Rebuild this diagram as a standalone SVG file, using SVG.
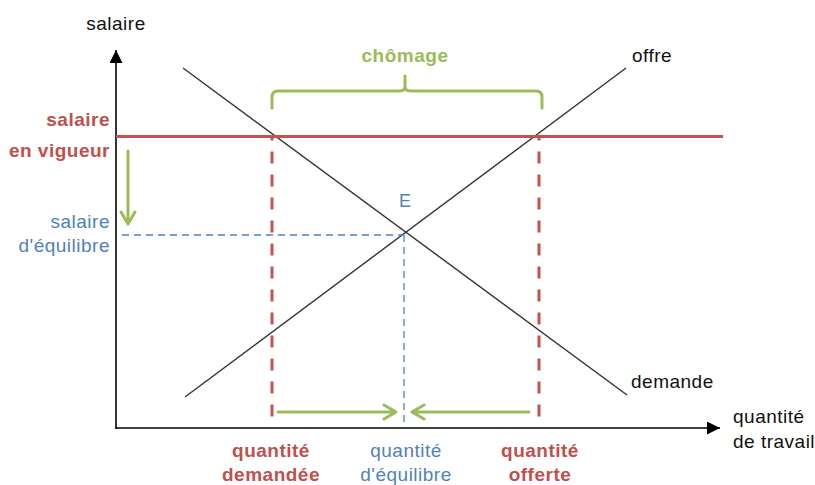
<svg xmlns="http://www.w3.org/2000/svg" width="815" height="485" viewBox="0 0 815 485">
<defs>
<style>
text{font-family:"Liberation Sans",Arial,sans-serif;font-size:19px;letter-spacing:0.5px}
.blk{fill:#111}
.red{fill:#c0504d;font-weight:bold}
.blue{fill:#4f81bd}
.green{fill:#9bbb59;font-weight:bold}
.mid{text-anchor:middle}
.end{text-anchor:end}
.curve{stroke:#333;stroke-width:1.4;fill:none}
.axis{stroke:#000;stroke-width:1.6;fill:none}
.rdash{stroke:#c9504d;stroke-width:3;stroke-dasharray:12,11;stroke-dashoffset:8.5;fill:none}
.bdash{stroke:#4f81bd;stroke-width:1.3;stroke-dasharray:7,5;fill:none}
.garrow{stroke:#9bbb59;stroke-width:3;fill:none;stroke-linecap:round;stroke-linejoin:round}
</style>
<marker id="ax" viewBox="0 0 10 10" refX="10" refY="5" markerWidth="13" markerHeight="13" markerUnits="userSpaceOnUse" orient="auto">
<path d="M0,0 L10,5 L0,10 Z" fill="#000"/>
</marker>
</defs>
<g id="axes">
<line class="axis" x1="116" y1="429" x2="116" y2="50" marker-end="url(#ax)"/>
<line class="axis" x1="116" y1="428" x2="720" y2="428" marker-end="url(#ax)"/>
</g>
<g id="connectors">
<line class="curve" x1="183" y1="68" x2="627" y2="395"/>
<line class="curve" x1="185" y1="397" x2="626" y2="68"/>
<line x1="116" y1="136.5" x2="723" y2="136.5" stroke="#c9504d" stroke-width="3"/>
<line class="rdash" x1="272" y1="137" x2="272" y2="427"/>
<line class="rdash" x1="539" y1="137" x2="539" y2="427"/>
<line class="bdash" x1="122" y1="235" x2="404" y2="235"/>
<line class="bdash" x1="404" y1="235" x2="404" y2="427"/>
<path class="garrow" d="M272,108 V97 Q272,91 278,91 H400 Q405,91 405,86 V76 M405,76 V86 Q405,91 410,91 H536 Q542,91 542,97 V108"/>
<path class="garrow" d="M128,151 V224 M121,212 L128,224 L135,212"/>
<path class="garrow" d="M278,412 H396 M384,405 L396,412 L384,419"/>
<path class="garrow" d="M529,412 H412 M424,405 L412,412 L424,419"/>
</g>
<g id="labels">
<text class="blk mid" x="116" y="30">salaire</text>
<text class="blk" x="632" y="62">offre</text>
<text class="blk" x="631" y="388">demande</text>
<text class="blk" x="733" y="423">quantité</text>
<text class="blk" x="733" y="448">de travail</text>
<text class="green mid" x="405" y="62">chômage</text>
<text class="red end" x="110" y="126">salaire</text>
<text class="red end" x="110" y="157">en vigueur</text>
<text class="blue end" x="110" y="228">salaire</text>
<text class="blue end" x="110" y="252">d'équilibre</text>
<text class="blue" x="399" y="207" style="font-size:18px">E</text>
<text class="red mid" x="271" y="457">quantité</text>
<text class="red mid" x="271" y="481">demandée</text>
<text class="blue mid" x="406" y="457">quantité</text>
<text class="blue mid" x="406" y="481">d'équilibre</text>
<text class="red mid" x="540" y="457">quantité</text>
<text class="red mid" x="540" y="481">offerte</text>
</g>
</svg>
